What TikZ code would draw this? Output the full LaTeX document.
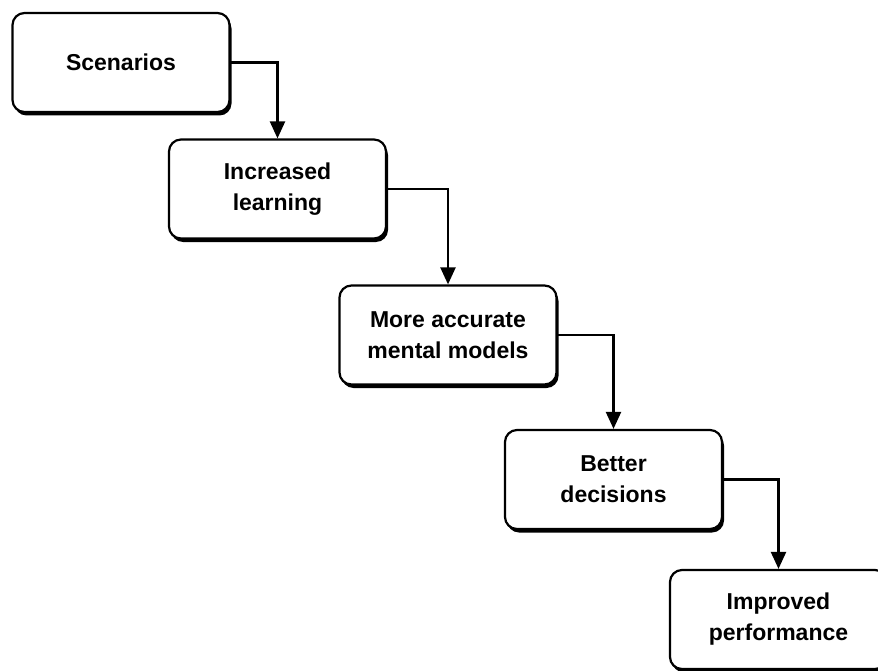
\documentclass[tikz,border=0pt]{standalone}
\usepackage{fontspec}
\setmainfont{Liberation Sans}
\usetikzlibrary{arrows.meta,shadows}
\begin{document}
\begin{tikzpicture}[x=1pt,y=-1pt,
  stepbox/.style={draw=black, line width=2.2pt, fill=white, rounded corners=12pt,
    minimum width=217pt, minimum height=99pt, align=center,
    font=\fontsize{23}{31}\selectfont\bfseries,
    drop shadow={shadow xshift=2pt, shadow yshift=-3.5pt, fill=black, opacity=1}},
  link/.style={draw=black, line width=2.2pt, -{Triangle[width=15pt,length=17pt]}}]
\useasboundingbox (0,0) rectangle (878,671);
\node[stepbox] (a) at (121,62.5) {Scenarios};
\node[stepbox] (b) at (277.5,189) {Increased\\learning};
\node[stepbox] (c) at (448,335) {More accurate\\mental models};
\node[stepbox] (d) at (613.5,479.5) {Better\\decisions};
\node[stepbox] (e) at (778.5,619.5) {Improved\\performance};
\draw[link] (a.east) -| (b.north);
\draw[link] (b.east) -| (c.north);
\draw[link] (c.east) -| (d.north);
\draw[link] (d.east) -| (e.north);
\end{tikzpicture}
\end{document}
